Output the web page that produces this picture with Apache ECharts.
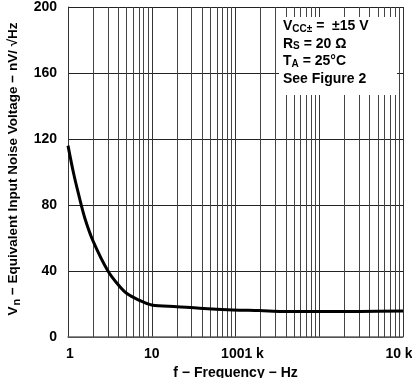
<!DOCTYPE html>
<html><head><meta charset="utf-8">
<script src="https://cdn.jsdelivr.net/npm/echarts@6/dist/echarts.min.js"></script>
<style>html,body{margin:0;padding:0;background:#fff}#c{width:412px;height:378px}</style>
</head><body><div id="c"></div>
<script>
// data
const freq  = [1, 1.157, 1.33, 1.59, 2, 3, 4, 5, 7, 10, 20, 37, 93, 193, 366, 1000, 3000, 10000];
const noise = [116, 100, 87, 72, 58, 40, 31.5, 26.5, 22.4, 19.4, 18.4, 17.4, 16.4, 16.0, 15.5, 15.4, 15.5, 15.8];
const yTicks = [0, 40, 80, 120, 160, 200];
const xTickLabels = {1: '{f|1}', 10: '10', 100: '{a|1001 k}', 1000: '', 10000: '{e|10 k}'};
const minorGrid = [];
[1, 10, 100, 1000].forEach(d => { for (let k = 2; k <= 9; k++) minorGrid.push(d * k); });

const FONT = 'Arial, "Liberation Sans", sans-serif';
const chart = echarts.init(document.getElementById('c'), null, {renderer: 'canvas'});
chart.setOption({
  animation: false,
  backgroundColor: '#fff',
  grid: {left: 68, right: 9, top: 7, bottom: 41, containLabel: false, outerBoundsMode: 'none'},
  xAxis: {
    type: 'log', logBase: 10, min: 1, max: 10000,
    name: 'f − Frequency − Hz', nameLocation: 'middle', nameGap: 23,
    nameTextStyle: {fontFamily: FONT, fontWeight: 'bold', fontSize: 14, color: '#000'},
    axisLine: {show: true, lineStyle: {color: '#666', width: 1.5}},
    axisTick: {show: false},
    axisLabel: {
      fontFamily: FONT, fontWeight: 'bold', fontSize: 14, color: '#000', margin: 10,
      formatter: v => xTickLabels[Math.round(v)] ?? '',
      rich: {
        f: {fontFamily: FONT, fontWeight: 'bold', fontSize: 14, color: '#000', padding: [0, 0, 0, 4]},
        a: {fontFamily: FONT, fontWeight: 'bold', fontSize: 14, color: '#000', padding: [0, 0, 0, 14]},
        e: {fontFamily: FONT, fontWeight: 'bold', fontSize: 14, color: '#000', padding: [0, 8, 0, 0]}
      }
    },
    splitLine: {show: true, lineStyle: {color: '#333', width: 1}}
  },
  yAxis: {
    type: 'value', min: 0, max: 200, interval: 40,
    name: '{b|V}{s|n}{b| − Equivalent Input Noise Voltage − nV/ √Hz}',
    nameLocation: 'middle', nameGap: 44, nameRotate: 90,
    nameTextStyle: {
      padding: [0, 0, 0, 6],
      rich: {
        b: {fontFamily: FONT, fontWeight: 'bold', fontSize: 13.5, color: '#000'},
        s: {fontFamily: FONT, fontWeight: 'bold', fontSize: 11, color: '#000', padding: [7, 0, 0, 1]}
      }
    },
    axisLine: {show: true, lineStyle: {color: '#333', width: 1}},
    axisTick: {show: false},
    axisLabel: {fontFamily: FONT, fontWeight: 'bold', fontSize: 14, color: '#000', margin: 11, padding: [6, 0, 0, 0],
      formatter: v => yTicks.includes(v) ? String(v) : ''},
    splitLine: {show: true, lineStyle: {color: '#222', width: 1}}
  },
  series: [{
    type: 'line',
    data: freq.map((f, i) => [f, noise[i]]),
    smooth: 0.3,
    showSymbol: false,
    lineStyle: {color: '#000', width: 3},
    z: 5,
    markLine: {
      silent: true, symbol: 'none', label: {show: false},
      lineStyle: {color: '#444', width: 1, type: 'solid'},
      data: minorGrid.map(v => ({xAxis: v}))
    }
  }],
  graphic: [
    {type: 'rect', left: 279, top: 17, shape: {width: 118, height: 78}, style: {fill: '#fff'}, z: 10},
    {type: 'text', left: 283, top: 19, z: 11,
      style: {
        text: '{b|V}{s|CC±}{b| =  ±15 V}\n{b|R}{s|S}{b| = 20 Ω}\n{b|T}{s|A}{b| = 25°C}\n{b|See Figure 2}',
        rich: {
          b: {fontFamily: FONT, fontWeight: 'bold', fontSize: 14, fill: '#000', lineHeight: 17.5},
          s: {fontFamily: FONT, fontWeight: 'bold', fontSize: 10, fill: '#000', lineHeight: 17.5, padding: [5, 0, 0, 0]}
        }
      }}
  ]
});
</script></body></html>
